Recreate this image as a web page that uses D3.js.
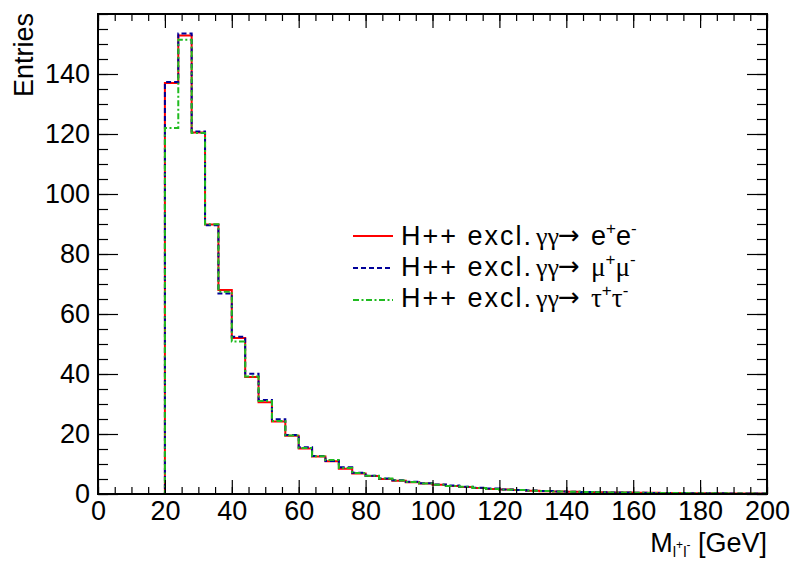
<!DOCTYPE html>
<html>
<head>
<meta charset="utf-8">
<script src="https://cdn.jsdelivr.net/npm/d3@7"></script>
<style>
  html, body { margin: 0; padding: 0; background: #fff; }
  svg { display: block; font-family: "Liberation Sans", Arial, Helvetica, sans-serif; }
</style>
</head>
<body>
<svg id="chart" width="794" height="561"></svg>
<script>
// Dilepton invariant mass, 4 GeV bins from 0 to 200 GeV
const binWidth = 4;
const binLow = d3.range(0, 200, binWidth);

// Entries per bin for each lepton channel
const eeValues = [
  0, 0, 0, 0, 0,
  137.0, 152.8, 120.5, 89.8, 68.0, 52.0, 39.0, 30.6, 24.2, 19.4,
  15.2, 12.5, 10.9, 8.4, 6.8, 6.0, 5.0, 4.4, 3.9, 3.5,
  3.1, 2.7, 2.3, 2.0, 1.7, 1.5, 1.3, 1.1, 0.95, 0.85,
  0.75, 0.65, 0.6, 0.5, 0.48, 0.42, 0.38, 0.33, 0.3, 0.27,
  0.25, 0.22, 0.2, 0.18, 0.16
];
const mumuValues = [
  0, 0, 0, 0, 0,
  137.3, 153.5, 120.8, 89.6, 66.8, 52.4, 40.1, 31.3, 24.9, 19.7,
  15.6, 12.7, 11.0, 8.9, 7.1, 6.1, 5.2, 4.6, 4.1, 3.6,
  3.2, 2.8, 2.4, 2.1, 1.8, 1.5, 1.3, 1.15, 1.0, 0.85,
  0.78, 0.68, 0.6, 0.52, 0.47, 0.43, 0.37, 0.34, 0.3, 0.28,
  0.24, 0.22, 0.2, 0.17, 0.15
];
const tautauValues = [
  0, 0, 0, 0, 0,
  122.0, 151.4, 120.3, 89.9, 67.4, 50.8, 39.2, 31.0, 24.3, 19.5,
  15.3, 12.6, 11.3, 8.7, 7.0, 6.1, 5.2, 4.5, 4.0, 3.5,
  3.1, 2.7, 2.4, 2.0, 1.7, 1.45, 1.3, 1.1, 0.97, 0.83,
  0.76, 0.66, 0.58, 0.52, 0.46, 0.41, 0.37, 0.32, 0.3, 0.26,
  0.24, 0.21, 0.19, 0.17, 0.15
];

const seriesColors = ["#ff0000", "#000099", "#20bb20"];
const seriesDash = [null, "5,3", "6,2.5,2,2.5"];
const legendProducts = [["e", "e"], ["μ", "μ"], ["τ", "τ"]];

const xTicks = [0, 20, 40, 60, 80, 100, 120, 140, 160, 180, 200];
const yTicks = [0, 20, 40, 60, 80, 100, 120, 140];

const svg = d3.select("#chart");
const plotLeft = 98, plotRight = 767, plotTop = 14, plotBottom = 494;

const x = d3.scaleLinear().domain([0, 200]).range([plotLeft, plotRight]);
const y = d3.scaleLinear().domain([0, 160]).range([plotBottom, plotTop]);

const fontSize = 27;

// Histogram outlines (step lines)
const line = d3.line()
  .x(d => x(d[0]))
  .y(d => y(d[1]))
  .curve(d3.curveStepAfter);

function histPoints(values) {
  const pts = binLow.map((lo, i) => [lo, values[i]]);
  pts.push([binLow[binLow.length - 1] + binWidth, values[values.length - 1]]);
  return pts;
}

[eeValues, mumuValues, tautauValues].forEach((vals, i) => {
  svg.append("path")
    .attr("d", line(histPoints(vals)))
    .attr("fill", "none")
    .attr("stroke", seriesColors[i])
    .attr("stroke-width", 2)
    .attr("stroke-dasharray", seriesDash[i]);
});

// Axes: major and minor ticks on all four sides, pointing inward
function styleAxis(g) {
  g.select(".domain").remove();
  g.selectAll(".tick line").attr("stroke", "#000").attr("stroke-width", 1.2);
  g.selectAll(".tick text").attr("fill", "#000").style("font-size", fontSize + "px")
    .style("font-family", '"Liberation Sans", Arial, sans-serif');
}
const xMinor = d3.range(0, 201, 5);
const yMinor = d3.range(0, 161, 5);

svg.append("g").attr("transform", `translate(0,${plotBottom})`)
  .call(d3.axisBottom(x).tickValues(xMinor).tickSize(-7).tickFormat(""))
  .call(styleAxis);
svg.append("g").attr("transform", `translate(0,${plotBottom})`)
  .call(d3.axisBottom(x).tickValues(xTicks).tickSize(-14).tickPadding(7).tickFormat(d3.format("d")))
  .call(styleAxis);
svg.append("g").attr("transform", `translate(0,${plotTop})`)
  .call(d3.axisTop(x).tickValues(xMinor).tickSize(-7).tickFormat(""))
  .call(styleAxis);
svg.append("g").attr("transform", `translate(0,${plotTop})`)
  .call(d3.axisTop(x).tickValues(xTicks).tickSize(-14).tickFormat(""))
  .call(styleAxis);

svg.append("g").attr("transform", `translate(${plotLeft},0)`)
  .call(d3.axisLeft(y).tickValues(yMinor).tickSize(-10).tickFormat(""))
  .call(styleAxis);
svg.append("g").attr("transform", `translate(${plotLeft},0)`)
  .call(d3.axisLeft(y).tickValues(yTicks).tickSize(-20).tickPadding(8).tickFormat(d3.format("d")))
  .call(styleAxis);
svg.append("g").attr("transform", `translate(${plotRight},0)`)
  .call(d3.axisRight(y).tickValues(yMinor).tickSize(-10).tickFormat(""))
  .call(styleAxis);
svg.append("g").attr("transform", `translate(${plotRight},0)`)
  .call(d3.axisRight(y).tickValues(yTicks).tickSize(-20).tickFormat(""))
  .call(styleAxis);

// Frame
svg.append("rect")
  .attr("x", plotLeft).attr("y", plotTop)
  .attr("width", plotRight - plotLeft).attr("height", plotBottom - plotTop)
  .attr("fill", "none").attr("stroke", "#000").attr("stroke-width", 2);

// Axis titles
svg.append("text")
  .attr("transform", `translate(33,${plotTop - 1}) rotate(-90)`)
  .attr("text-anchor", "end")
  .style("font-size", fontSize + "px")
  .text("Entries");

const xt = svg.append("text")
  .attr("x", plotRight).attr("y", 552)
  .attr("text-anchor", "end")
  .style("font-size", fontSize + "px");
xt.append("tspan").text("M");
xt.append("tspan").attr("dy", 5).style("font-size", "15px").text("l");
xt.append("tspan").attr("dy", -8).style("font-size", "12px").text("+");
xt.append("tspan").attr("dy", 8).style("font-size", "15px").text("l");
xt.append("tspan").attr("dy", -8).style("font-size", "12px").text("-");
xt.append("tspan").attr("dy", 3).text(" [GeV]");

// Legend: one text per row, pieces placed at fixed offsets
const legendLineY = [236, 268, 300];
const legendBaseY = [245, 275.5, 306.5];
const greekFont = '"Liberation Serif", "Times New Roman", serif';
legendLineY.forEach((ly, i) => {
  svg.append("line")
    .attr("x1", 353).attr("x2", 393).attr("y1", ly).attr("y2", ly)
    .attr("stroke", seriesColors[i]).attr("stroke-width", 2)
    .attr("stroke-dasharray", seriesDash[i]);
  const by = legendBaseY[i];
  const t = svg.append("text").attr("y", by).style("font-size", "27px");
  t.append("tspan").attr("x", 401).style("letter-spacing", "2px").text("H++ excl.");
  t.append("tspan").attr("x", 536).style("font-family", greekFont).style("font-size", "26px").text("γγ");
  t.append("tspan").attr("x", 558).attr("dy", -1)
    .style("font-family", '"DejaVu Sans", sans-serif').style("font-size", "26px").text("→");
  const symFont = i === 0 ? null : greekFont;
  t.append("tspan").attr("x", 591).attr("dy", 1).style("font-family", symFont).text(legendProducts[i][0]);
  t.append("tspan").attr("dy", -11).style("font-size", "17px").text("+");
  t.append("tspan").attr("dy", 11).style("font-family", symFont).text(legendProducts[i][1]);
  t.append("tspan").attr("dy", -11).style("font-size", "17px").text("-");
});
</script>
</body>
</html>
